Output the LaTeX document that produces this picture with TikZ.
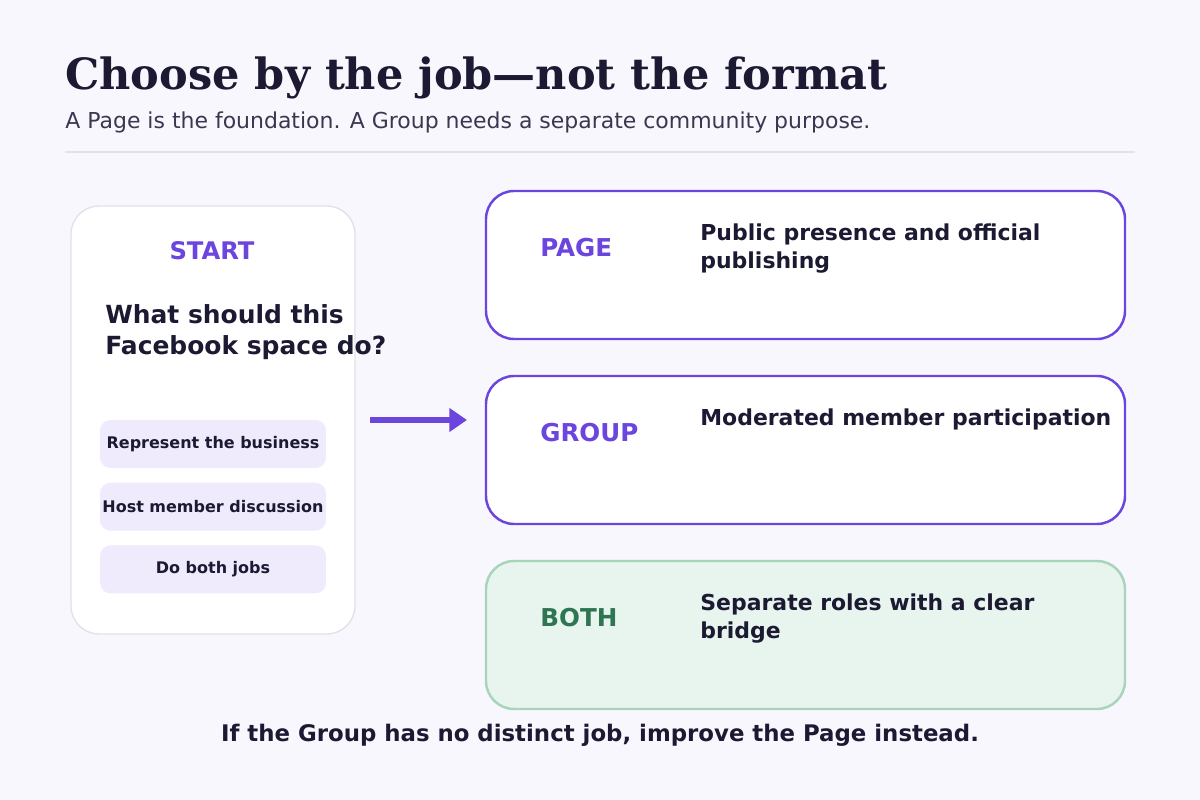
\documentclass[tikz,border=0pt]{standalone}
\usepackage{fontspec}
\setmainfont{DejaVu Sans}
\newfontfamily\titlefont{DejaVu Serif}
\usetikzlibrary{positioning,arrows.meta}
\definecolor{bgpage}{HTML}{F8F7FD}
\definecolor{ink}{HTML}{1C1A33}
\definecolor{muted}{HTML}{3A3850}
\definecolor{purp}{HTML}{6B45DE}
\definecolor{chipfill}{HTML}{EFEBFD}
\definecolor{cardline}{HTML}{E3E1EC}
\definecolor{greenfill}{HTML}{E8F5EE}
\definecolor{greenline}{HTML}{A8D4BB}
\definecolor{greenink}{HTML}{2E7552}
\begin{document}
\begin{tikzpicture}[x=0.02cm,y=-0.02cm,
    chip/.style={rectangle, fill=chipfill, rounded corners=6pt, inner xsep=0pt, minimum width=4.52cm, minimum height=0.96cm, font=\fontsize{9.1}{10}\selectfont\bfseries, text=ink},
    option/.style={draw=purp, line width=1.4pt, fill=white, rounded corners=16pt},
    tag/.style={anchor=west, inner sep=0, font=\fontsize{14}{16}\selectfont\bfseries, text=purp},
    desc/.style={anchor=north west, align=left, inner sep=0, font=\fontsize{12.5}{16}\selectfont\bfseries, text=ink}
]
    \fill[bgpage] (0,0) rectangle (1200,800);
    % Heading
    \node[anchor=base west, inner sep=0, font=\titlefont\fontsize{24.5}{28}\selectfont\bfseries, text=ink] (title) at (65,90) {Choose by the job—not the format};
    \node[anchor=base west, inner sep=0, font=\fontsize{12.5}{14}\selectfont, text=muted] (subtitle) at (65,129) {A Page is the foundation. A Group needs a separate community purpose.};
    \draw[cardline, line width=1pt] (65,152) -- (1135,152);

    % Start card
    \draw[cardline, fill=white, line width=0.8pt, rounded corners=16pt] (71,206) rectangle (355,634);
    \node[font=\fontsize{13.8}{16}\selectfont\bfseries, text=purp] (start) at (212,251) {START};
    \node[anchor=north west, align=left, inner sep=0, font=\fontsize{14.2}{17.5}\selectfont\bfseries, text=ink] (question) at (105,304) {What should this\\Facebook space do?};
    \node[chip] (represent) at (213,444) {Represent the business};
    \node[chip, below=0.28cm of represent] (host) {Host member discussion};
    \node[chip, below=0.28cm of host] (both) {Do both jobs};

    % Arrow
    \coordinate (arrowstart) at (370,420);
    \coordinate (arrowend) at (467,420);
    \draw[purp, line width=3pt, -{Triangle[length=10pt,width=13pt]}] (arrowstart) -- (arrowend);

    % Options
    \draw[option] (486,191) rectangle (1125,339);
    \node[tag] (page) at (540,248) {PAGE};
    \node[desc] (pagedesc) at (700,223) {Public presence and official\\publishing};

    \draw[option] (486,376) rectangle (1125,524);
    \node[tag] (group) at (540,433) {GROUP};
    \node[desc] (groupdesc) at (700,408) {Moderated member participation};

    \draw[greenline, fill=greenfill, line width=1.4pt, rounded corners=16pt] (486,561) rectangle (1125,709);
    \node[tag, text=greenink] (bothtag) at (540,618) {BOTH};
    \node[desc] (bothdesc) at (700,593) {Separate roles with a clear\\bridge};

    % Footer
    \node[font=\fontsize{13}{15}\selectfont\bfseries, text=ink] (footer) at (600,735) {If the Group has no distinct job, improve the Page instead.};
\end{tikzpicture}
\end{document}
